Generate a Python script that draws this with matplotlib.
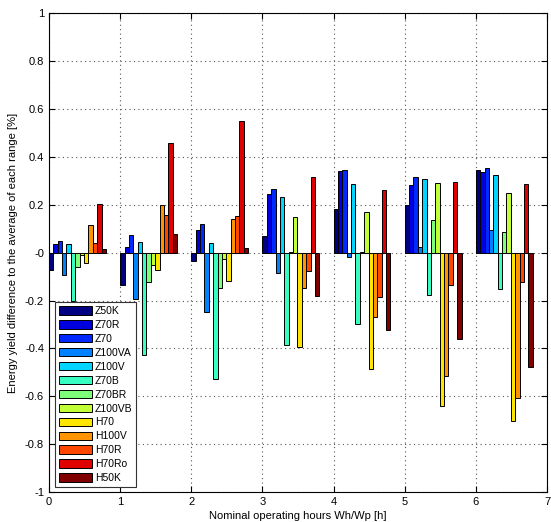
import matplotlib
matplotlib.use('Agg')
import matplotlib.pyplot as plt
import numpy as np

plt.rcParams['font.family'] = ['Liberation Sans', 'DejaVu Sans']

# nominal operating hours groups
hours = [0, 1, 2, 3, 4, 5, 6]

modules = ['Z50K', 'Z70R', 'Z70', 'Z100VA', 'Z100V', 'Z70B', 'Z70BR',
           'Z100VB', 'H70', 'H100V', 'H70R', 'H70Ro', 'H50K']

# energy yield difference, one row per module, one column per range
Z50K   = [-0.074, -0.135, -0.035,  0.069,  0.181,  0.197,  0.344]
Z70R   = [ 0.037,  0.024,  0.096,  0.246,  0.342,  0.283,  0.335]
Z70    = [ 0.050,  0.072,  0.121,  0.268,  0.346,  0.318,  0.354]
Z100VA = [-0.094, -0.193, -0.250, -0.083, -0.018,  0.024,  0.096]
Z100V  = [ 0.037,  0.044,  0.042,  0.233,  0.286,  0.306,  0.325]
Z70B   = [-0.204, -0.428, -0.529, -0.386, -0.297, -0.179, -0.151]
Z70BR  = [-0.058, -0.124, -0.146,  0.004,  0.004,  0.138,  0.086]
Z100VB = [-0.008, -0.053, -0.028,  0.150,  0.171,  0.289,  0.251]
H70    = [-0.042, -0.072, -0.117, -0.396, -0.485, -0.642, -0.704]
H100V  = [ 0.114,  0.200,  0.142, -0.149, -0.267, -0.515, -0.607]
H70R   = [ 0.042,  0.156,  0.154, -0.076, -0.186, -0.135, -0.121]
H70Ro  = [ 0.203,  0.460,  0.549,  0.317,  0.263,  0.296,  0.288]
H50K   = [ 0.014,  0.076,  0.021, -0.181, -0.322, -0.360, -0.479]

data = [Z50K, Z70R, Z70, Z100VA, Z100V, Z70B, Z70BR,
        Z100VB, H70, H100V, H70R, H70Ro, H50K]

fig = plt.figure(figsize=(5.51, 5.22), dpi=100)
ax = fig.add_axes([0.0889, 0.0575, 0.9038, 0.917])

n = len(modules)
w = 0.8 / n
colors = plt.cm.jet(np.linspace(0, 1, n))
x = np.array(hours, dtype=float)
for i in range(n):
    ax.bar(x + (i + 0.5) * w, data[i], width=w, color=colors[i],
           edgecolor='black', linewidth=0.7, label=modules[i], zorder=3)

ax.set_xlim(0, 7)
ax.set_ylim(-1, 1)
ax.set_xticks(range(0, 8))
yt = np.round(np.arange(-1, 1.01, 0.2), 1)
ax.set_yticks(yt)
ax.set_yticklabels(['%g' % v for v in yt])
ax.tick_params(direction='in', labelsize=8, top=True, right=True, length=4)
ax.grid(True, linestyle=(0, (1, 3)), color='#555555', linewidth=0.8, zorder=0)

ax.set_xlabel('Nominal operating hours Wh/Wp [h]', fontsize=8, labelpad=3)
ax.set_ylabel('Energy yield difference to the average of each range [%]',
              fontsize=8, labelpad=5)

leg = ax.legend(loc='lower left', bbox_to_anchor=(0.012, 0.0105),
                borderaxespad=0, fontsize=7.5, handlelength=3.2,
                handleheight=0.9, labelspacing=0.38, handletextpad=0.3,
                borderpad=0.35, fancybox=False, framealpha=1,
                edgecolor='#333333')
leg.get_frame().set_linewidth(0.8)

fig.savefig('out.png', dpi=100)
